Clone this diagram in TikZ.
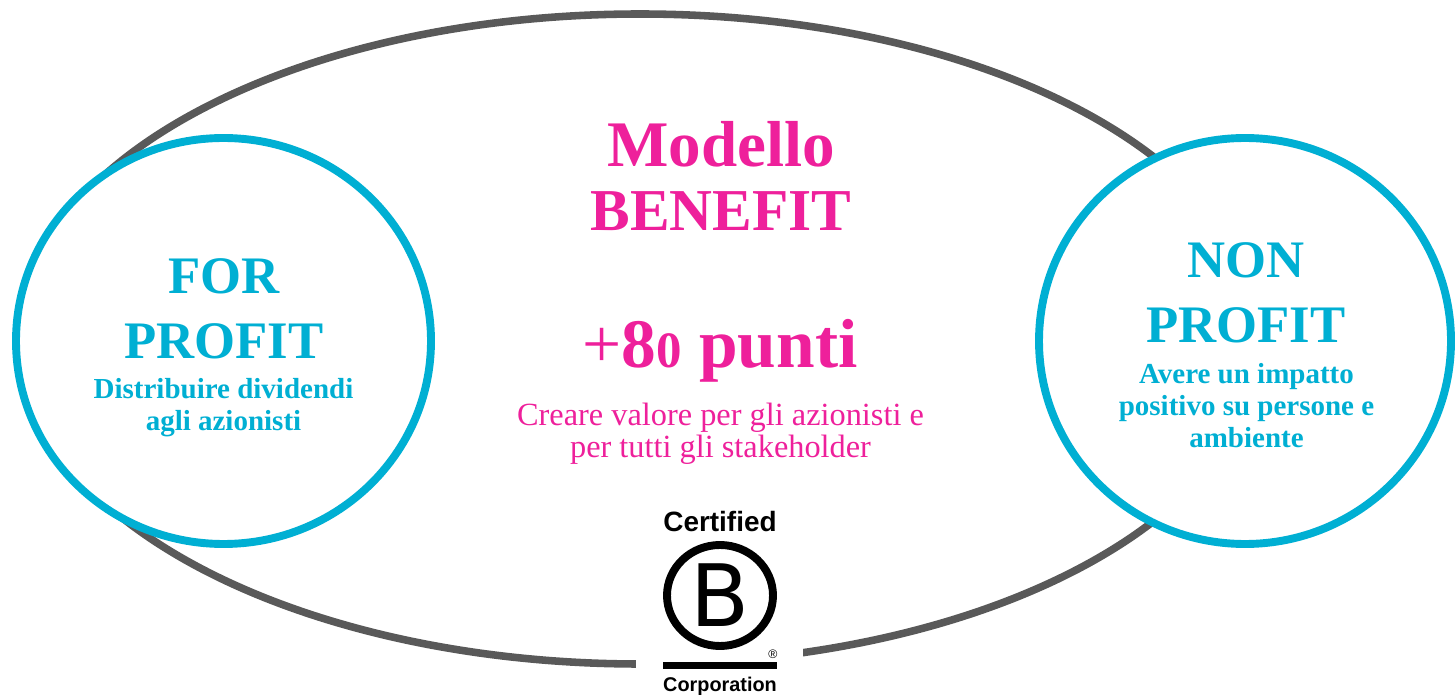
\documentclass[tikz,border=0pt]{standalone}
\usepackage{fontspec}
\setmainfont{Liberation Serif}
\setsansfont{Liberation Sans}
\newfontfamily\bmarkfont{DejaVu Sans}
\usetikzlibrary{shapes.geometric}
\definecolor{ringcyan}{HTML}{00AFD3}
\definecolor{titlepink}{HTML}{EE209B}
\definecolor{ringgray}{HTML}{595959}
\tikzset{
  ring/.style={ellipse, draw=ringcyan, fill=white, line width=4.5pt, minimum height=8.12cm, inner sep=0pt},
  bigtext/.style={align=center, inner sep=0pt, text=#1, font=\bfseries\fontsize{30}{36.8}\selectfont},
  smalltext/.style={align=center, inner sep=0pt, text=#1, font=\bfseries\fontsize{16.5}{18.2}\selectfont},
  logotext/.style={inner sep=0pt, font=\sffamily\bfseries\fontsize{#1}{14}\selectfont},
}
\newcommand{\smallzero}{{\fontsize{29}{29}\selectfont 0}}
\begin{document}
\begin{tikzpicture}
  \useasboundingbox (0,0) rectangle (29.10,13.88);
  \node (modello) [draw=ringgray, line width=4.3pt, ellipse, minimum width=24.8cm, minimum height=13.0cm, inner sep=0pt] at (12.80,7.10) {};
  \node (gap) [fill=white, minimum width=3.34cm, minimum height=1.5cm, inner sep=0pt] at (14.39,0.75) {};
  \node (forring) [ring, minimum width=8.30cm] at (4.47,7.06) {};
  \node (nonring) [ring, minimum width=8.24cm] at (24.90,7.06) {};
  % testi
  \node (fortitle) [bigtext=ringcyan] at (4.48,7.70) {FOR\\PROFIT};
  \node (fortext) [smalltext=ringcyan] at (4.47,5.72) {Distribuire dividendi\\agli azionisti};
  \node (nontitle) [bigtext=ringcyan] at (24.92,8.03) {NON\\PROFIT};
  \node (nontext) [smalltext=ringcyan] at (24.93,5.76) {Avere un impatto\\positivo su persone e\\ambiente};
  \node (benefit) [bigtext=titlepink, font=\bfseries\fontsize{33.8}{36.6}\selectfont] at (14.42,10.36) {{\fontsize{37}{36.6}\selectfont Modello}\\BENEFIT};
  \node (punti) [text=titlepink, inner sep=0pt, font=\bfseries\fontsize{39.5}{38}\selectfont] at (14.40,6.87) {{\mdseries +}8\smallzero{} punti};
  \node (valore) [text=titlepink, align=center, inner sep=0pt, font=\fontsize{18.4}{18.2}\selectfont] at (14.41,5.21) {Creare valore per gli azionisti e\\per tutti gli stakeholder};
  % logo
  \node (certified) [logotext=15.9] at (14.40,3.44) {Certified};
  \node (bcircle) [ellipse, draw=black, line width=4.5pt, minimum width=2.12cm, minimum height=2.02cm, inner sep=0pt, font=\bmarkfont\fontsize{49}{49}\selectfont] at (14.40,1.97) {B};
  \node (bar) [fill=black, minimum width=2.28cm, minimum height=0.14cm, inner sep=0pt] at (14.40,0.58) {};
  \node (regmark) [inner sep=0pt, font=\sffamily\fontsize{7}{7}\selectfont] at (15.46,0.80) {\textregistered};
  \node (corporation) [logotext=11.3] at (14.40,0.16) {Corporation};
\end{tikzpicture}
\end{document}
